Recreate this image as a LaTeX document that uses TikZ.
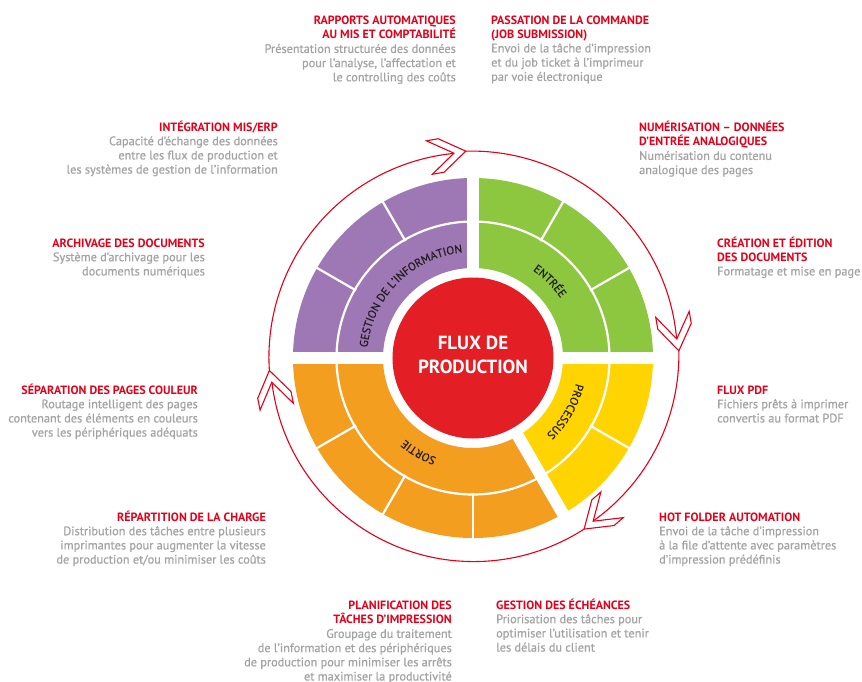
\documentclass[tikz,border=0pt]{standalone}
\usepackage{fontspec}
\setmainfont{PT Sans}
\newfontfamily\ringfont{PT Sans}[FakeBold=0.5]
\newfontfamily\bodyfont{PT Sans}[FakeBold=0.8]
\usetikzlibrary{decorations.text}
\definecolor{tred}{HTML}{E2001A}
\definecolor{tgray}{HTML}{A3A3A3}
\definecolor{cpurple}{HTML}{9E77B5}
\definecolor{cgreen}{HTML}{8DC63F}
\definecolor{cyellow}{HTML}{FFD400}
\definecolor{corange}{HTML}{F49E1F}
\definecolor{cred}{HTML}{E31E24}
\definecolor{ringtxt}{HTML}{231F20}
\newcommand\ttl[1]{{\normalfont\fontsize{12}{14.2}\selectfont\bfseries\color{tred}#1}}
\newcommand\chev[3]{\begin{scope}[shift={(#1:#2)}, rotate=#3]
  \filldraw[chevstyle] (0,0) -- (-25,17) -- (-37,17) -- (-12,0) -- (-37,-17) -- (-25,-17) -- cycle;
  \end{scope}}
\begin{document}
\begin{tikzpicture}[x=1pt,y=1pt,
  blkR/.style={anchor=base east, inner sep=0, font=\bodyfont\fontsize{12.3}{14.2}\selectfont, text=tgray},
  blkL/.style={anchor=base west, inner sep=0, font=\bodyfont\fontsize{12.3}{14.2}\selectfont, text=tgray},
  chevstyle/.style={draw=tred, fill=white, line width=1.1, line join=miter},
  cycleline/.style={draw=tred, line width=1.1},
  gapline/.style={white, line width=12},
  sepline/.style={white, line width=2.2},
  ringlabel/.style={decorate, decoration={text along path, text color=ringtxt, text align=center, text={#1}}}
]
\useasboundingbox (-473,-323) rectangle (389,358);

% coloured sectors
\foreach \a/\b/\c in {90/180/cpurple, 0/90/cgreen, -60/0/cyellow, 180/300/corange}
  \fill[\c] (\a:90) arc[start angle=\a, end angle=\b, radius=90] -- (\b:180) arc[start angle=\b, end angle=\a, radius=180] -- cycle;

% thin separators
\draw[sepline] (0,0) circle[radius=136.5];
\foreach \a in {30,60,120,150,210,240,270,330}
  \draw[sepline] (\a:135) -- (\a:185);
% gaps
\foreach \a in {0,90,180,300}
  \draw[gapline] (0,0) -- (\a:186);

% centre
\node[circle, fill=cred, minimum size=161, inner sep=0] (core) at (0,0) {};
\node[anchor=base, inner sep=0, text=white, font=\fontsize{19}{24}\selectfont\bfseries] (title) at (0,8.5)
  {\begin{tabular}[t]{@{}c@{}}FLUX DE\\PRODUCTION\end{tabular}};

% ring labels
\path[ringlabel={|\ringfont\fontsize{11.5}{13}\selectfont|GESTION DE L’INFORMATION}] (180:106) arc[start angle=180, end angle=90, radius=106];
\path[ringlabel={|\ringfont\fontsize{11.5}{13}\selectfont|ENTRÉE}] (90:106) arc[start angle=90, end angle=0, radius=106];
\path[ringlabel={|\ringfont\fontsize{11.5}{13}\selectfont|PROCESSUS}] (0:106) arc[start angle=0, end angle=-60, radius=106];
\path[ringlabel={|\ringfont\fontsize{11.5}{13}\selectfont|SORTIE}] (300:106) arc[start angle=300, end angle=180, radius=106];

% outer cycle
\draw[cycleline] plot[domain=0:1, samples=80] ({92+(5.1-92)*\x}:{207+(204.5-207)*\x});
\draw[cycleline] plot[domain=0:1, samples=60] ({2+(-53.9-2)*\x}:{206+(202.5-206)*\x});
\draw[cycleline] plot[domain=0:1, samples=100] ({-57+(-173.4+57)*\x}:{204+(202.5-204)*\x});
\draw[cycleline] plot[domain=0:1, samples=80] ({183.5+(95.1-183.5)*\x}:{204+(205.5-204)*\x});
\chev{92}{207}{10}
\chev{2}{206}{-80}
\chev{-57}{204}{-139}
\chev{183.5}{204}{101.5}

% text blocks
\node[blkR] (rapports) at (-17,334) {\begin{tabular}[t]{@{}r@{}}\ttl{RAPPORTS AUTOMATIQUES}\\ \ttl{AU MIS ET COMPTABILITÉ}\\ Présentation structurée des données\\ pour l’analyse, l’affectation et\\ le controlling des coûts\end{tabular}};
\node[blkL] (passation) at (18,334) {\begin{tabular}[t]{@{}l@{}}\ttl{PASSATION DE LA COMMANDE}\\ \ttl{(JOB SUBMISSION)}\\ Envoi de la tâche d’impression\\ et du job ticket à l’imprimeur\\ par voie électronique\end{tabular}};
\node[blkL] (numerisation) at (166,227) {\begin{tabular}[t]{@{}l@{}}\ttl{NUMÉRISATION – DONNÉES}\\ \ttl{D’ENTRÉE ANALOGIQUES}\\ Numérisation du contenu\\ analogique des pages\end{tabular}};
\node[blkL] (creation) at (244,111) {\begin{tabular}[t]{@{}l@{}}\ttl{CRÉATION ET ÉDITION}\\ \ttl{DES DOCUMENTS}\\ Formatage et mise en page\end{tabular}};
\node[blkL] (fluxpdf) at (244,-36) {\begin{tabular}[t]{@{}l@{}}\ttl{FLUX PDF}\\ Fichiers prêts à imprimer\\ convertis au format PDF\end{tabular}};
\node[blkL] (hotfolder) at (186,-163) {\begin{tabular}[t]{@{}l@{}}\ttl{HOT FOLDER AUTOMATION}\\ Envoi de la tâche d’impression\\ à la file d’attente avec paramètres\\ d’impression prédéfinis\end{tabular}};
\node[blkL] (echeances) at (23,-251) {\begin{tabular}[t]{@{}l@{}}\ttl{GESTION DES ÉCHÉANCES}\\ Priorisation des tâches pour\\ optimiser l’utilisation et tenir\\ les délais du client\end{tabular}};
\node[blkR] (planification) at (-21,-251) {\begin{tabular}[t]{@{}r@{}}\ttl{PLANIFICATION DES}\\ \ttl{TÂCHES D’IMPRESSION}\\ Groupage du traitement\\ de l’information et des périphériques\\ de production pour minimiser les arrêts\\ et maximiser la productivité\end{tabular}};
\node[blkR] (repartition) at (-207,-163) {\begin{tabular}[t]{@{}r@{}}\ttl{RÉPARTITION DE LA CHARGE}\\ Distribution des tâches entre plusieurs\\ imprimantes pour augmenter la vitesse\\ de production et/ou minimiser les coûts\end{tabular}};
\node[blkR] (separation) at (-275,-36) {\begin{tabular}[t]{@{}r@{}}\ttl{SÉPARATION DES PAGES COULEUR}\\ Routage intelligent des pages\\ contenant des éléments en couleurs\\ vers les périphériques adéquats\end{tabular}};
\node[blkR] (archivage) at (-268,111) {\begin{tabular}[t]{@{}r@{}}\ttl{ARCHIVAGE DES DOCUMENTS}\\ Système d’archivage pour les\\ documents numériques\end{tabular}};
\node[blkR] (integration) at (-195,227) {\begin{tabular}[t]{@{}r@{}}\ttl{INTÉGRATION MIS/ERP}\\ Capacité d’échange des données\\ entre les flux de production et\\ les systèmes de gestion de l’information\end{tabular}};
\end{tikzpicture}
\end{document}
